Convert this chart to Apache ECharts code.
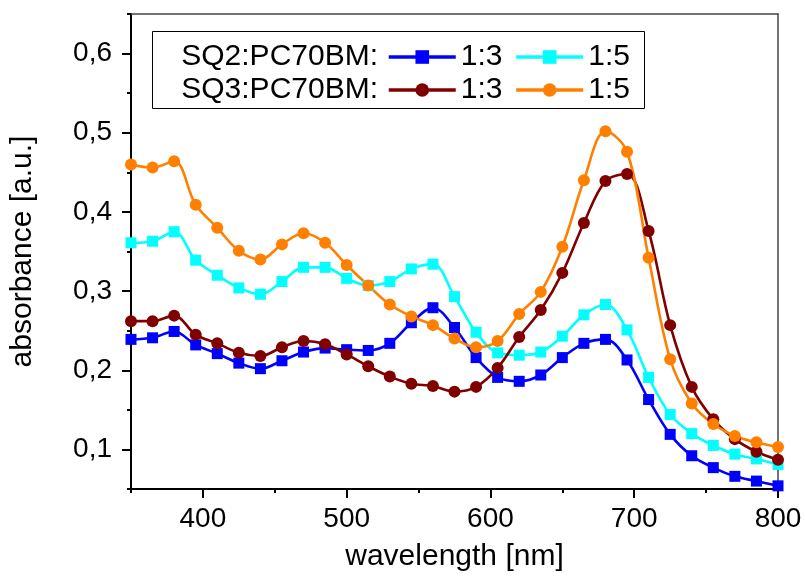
<!DOCTYPE html>
<html>
<head>
<meta charset="utf-8">
<script src="https://cdn.jsdelivr.net/npm/echarts@6/dist/echarts.min.js"></script>
<style>html,body{margin:0;padding:0;background:#fff}#c{width:805px;height:577px}</style>
</head>
<body>
<div id="c"></div>
<script>
const wavelengths = [350,365,380,395,410,425,440,455,470,485,500,515,530,545,560,575,590,605,620,635,650,665,680,695,710,725,740,755,770,785,800];
const sq2_13 = [0.239,0.241,0.249,0.232,0.221,0.209,0.202,0.212,0.223,0.228,0.226,0.225,0.234,0.260,0.279,0.254,0.216,0.191,0.186,0.194,0.216,0.234,0.239,0.213,0.163,0.119,0.092,0.077,0.066,0.060,0.054];
const sq2_15 = [0.361,0.363,0.375,0.339,0.320,0.304,0.296,0.312,0.330,0.330,0.316,0.307,0.312,0.328,0.334,0.293,0.248,0.222,0.219,0.223,0.243,0.270,0.283,0.251,0.191,0.144,0.120,0.105,0.094,0.088,0.081];
const sq3_13 = [0.262,0.262,0.269,0.245,0.234,0.222,0.218,0.229,0.237,0.233,0.220,0.205,0.192,0.183,0.180,0.173,0.179,0.203,0.242,0.276,0.323,0.386,0.439,0.448,0.376,0.257,0.179,0.138,0.113,0.097,0.087];
const sq3_15 = [0.460,0.456,0.464,0.409,0.380,0.351,0.340,0.359,0.373,0.361,0.333,0.307,0.283,0.268,0.257,0.240,0.229,0.237,0.271,0.299,0.356,0.440,0.502,0.476,0.342,0.214,0.158,0.132,0.117,0.109,0.103];
const xMajorTicks = [400,500,600,700,800];
const xMinorTicks = [350,450,550,650,750];
const yMajorTicks = [0.1,0.2,0.3,0.4,0.5,0.6];
const yMinorTicks = [0.05,0.15,0.25,0.35,0.45,0.55,0.65];
const rowLabels = ['SQ2:PC70BM:', 'SQ3:PC70BM:'];
const ratioLabels = ['1:3', '1:5'];

const FONT = 'Liberation Sans, Arial, sans-serif';
const FS = 30;
const FT = 28;
const pairs = a => wavelengths.map((w,i)=>[w,a[i]]);
const fmt = v => String(v).replace('.', ',');

function mk(name, data, color, symbol, size){
  return {name, type:'line', data:pairs(data), xAxisIndex:0, yAxisIndex:0,
    smooth:0.35, symbol, symbolSize:size, showSymbol:true,
    lineStyle:{color, width:2.6}, itemStyle:{color}, emphasis:{disabled:true}, z:2};
}

const chart = echarts.init(document.getElementById('c'), null, {renderer:'canvas'});
chart.setOption({
  animation:false,
  backgroundColor:'#fff',
  grid:{left:129, right:27, top:14, bottom:86},
  textStyle:{fontFamily:FONT},
  xAxis:[
    {type:'value', min:350, max:800, position:'bottom',
     name:'wavelength [nm]', nameLocation:'middle', nameGap:53,
     nameTextStyle:{fontSize:FS, color:'#000', fontFamily:FONT},
     axisLine:{show:true, onZero:false, lineStyle:{color:'#000', width:2}},
     axisTick:{show:true, length:9, customValues:xMajorTicks, lineStyle:{color:'#000', width:2}},
     axisLabel:{show:true, customValues:xMajorTicks, fontSize:FT, color:'#000', margin:16, fontFamily:FONT},
     splitLine:{show:false}},
    {type:'value', min:350, max:800, position:'bottom',
     axisLine:{show:false},
     axisTick:{show:true, length:4, customValues:xMinorTicks, lineStyle:{color:'#000', width:2}},
     axisLabel:{show:false}, splitLine:{show:false}},
    {type:'value', min:350, max:800, position:'top',
     axisLine:{show:true, onZero:false, lineStyle:{color:'#444', width:1.5}},
     axisTick:{show:false}, axisLabel:{show:false}, splitLine:{show:false}}
  ],
  yAxis:[
    {type:'value', min:0.05, max:0.65, position:'left',
     name:'absorbance [a.u.]', nameLocation:'middle', nameGap:93,
     nameTextStyle:{fontSize:FS, color:'#000', fontFamily:FONT},
     axisLine:{show:true, onZero:false, lineStyle:{color:'#000', width:2}},
     axisTick:{show:true, length:9, customValues:yMajorTicks, lineStyle:{color:'#000', width:2}},
     axisLabel:{show:true, customValues:yMajorTicks, formatter:fmt, fontSize:FT, color:'#000', margin:19, fontFamily:FONT},
     splitLine:{show:false}},
    {type:'value', min:0.05, max:0.65, position:'left',
     axisLine:{show:false},
     axisTick:{show:true, length:4, customValues:yMinorTicks, lineStyle:{color:'#000', width:2}},
     axisLabel:{show:false}, splitLine:{show:false}},
    {type:'value', min:0.05, max:0.65, position:'right',
     axisLine:{show:true, onZero:false, lineStyle:{color:'#444', width:1.5}},
     axisTick:{show:false}, axisLabel:{show:false}, splitLine:{show:false}}
  ],
  legend:[
    {data:['SQ2 1:3','SQ2 1:5'], left:387, top:42, orient:'horizontal', padding:0,
     itemWidth:67, itemHeight:17, itemGap:12, formatter:n=>n.split(' ')[1],
     lineStyle:{width:3.5},
     textStyle:{fontSize:FS, color:'#000', fontFamily:FONT}, selectedMode:false},
    {data:['SQ3 1:3','SQ3 1:5'], left:387, top:75, orient:'horizontal', padding:0,
     itemWidth:67, itemHeight:17, itemGap:12, formatter:n=>n.split(' ')[1],
     lineStyle:{width:3.5},
     textStyle:{fontSize:FS, color:'#000', fontFamily:FONT}, selectedMode:false}
  ],
  graphic:[
    {type:'rect', left:152, top:31, shape:{width:492, height:77}, style:{fill:'#fff', stroke:'#000', lineWidth:1}, z:1},
    {type:'text', right:805-378, top:42, style:{text:rowLabels[0], font:FS+'px '+FONT, fill:'#000'}, z:10},
    {type:'text', right:805-378, top:75, style:{text:rowLabels[1], font:FS+'px '+FONT, fill:'#000'}, z:10}
  ],
  series:[
    mk('SQ2 1:3', sq2_13, '#0000ff', 'rect', 11),
    mk('SQ2 1:5', sq2_15, '#00ffff', 'rect', 11),
    mk('SQ3 1:3', sq3_13, '#800000', 'circle', 12),
    mk('SQ3 1:5', sq3_15, '#ff8000', 'circle', 12)
  ]
});
</script>
</body>
</html>
